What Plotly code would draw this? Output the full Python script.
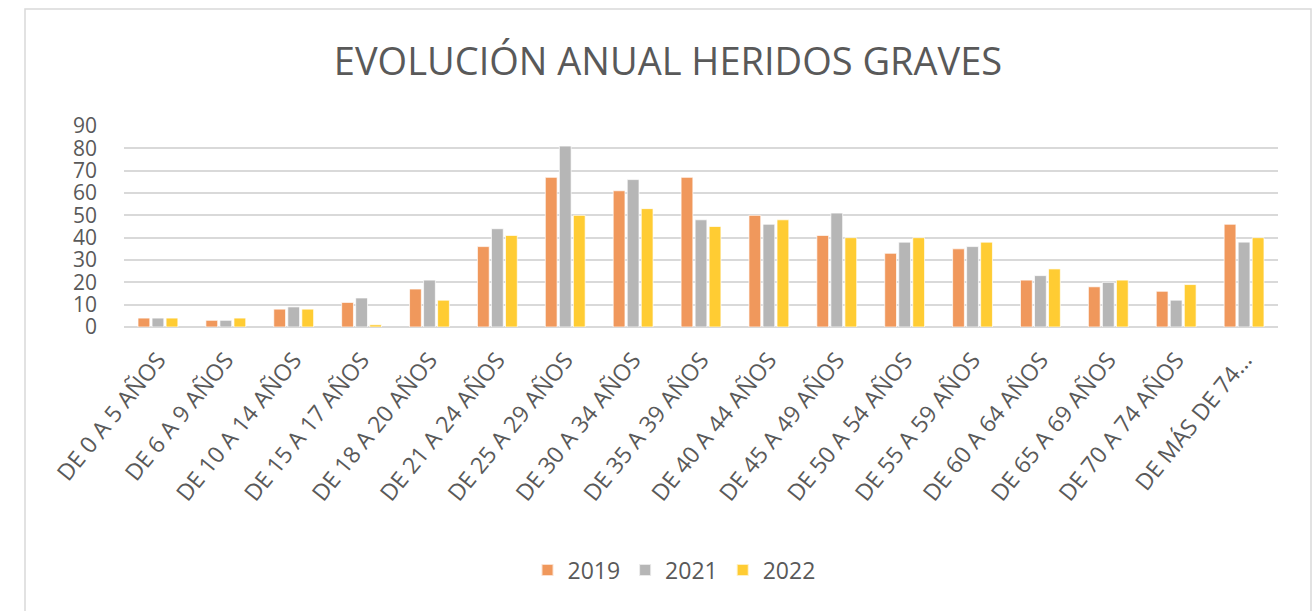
import plotly.graph_objects as go

categories = ["DE 0 A 5 AÑOS", "DE 6 A 9 AÑOS", "DE 10 A 14 AÑOS", "DE 15 A 17 AÑOS",
              "DE 18 A 20 AÑOS", "DE 21 A 24 AÑOS", "DE 25 A 29 AÑOS", "DE 30 A 34 AÑOS",
              "DE 35 A 39 AÑOS", "DE 40 A 44 AÑOS", "DE 45 A 49 AÑOS", "DE 50 A 54 AÑOS",
              "DE 55 A 59 AÑOS", "DE 60 A 64 AÑOS", "DE 65 A 69 AÑOS", "DE 70 A 74 AÑOS",
              "DE MÁS DE 74..."]
v2019 = [4, 3, 8, 11, 17, 36, 67, 61, 67, 50, 41, 33, 35, 21, 18, 16, 46]
v2021 = [4, 3, 9, 13, 21, 44, 81, 66, 48, 46, 51, 38, 36, 23, 20, 12, 38]
v2022 = [4, 4, 8, 1, 12, 41, 50, 53, 45, 48, 40, 40, 38, 26, 21, 19, 40]
series_names = ["2019", "2021", "2022"]
colors = ["#F0985C", "#B6B6B6", "#FFCC33"]
y_ticks = [0, 10, 20, 30, 40, 50, 60, 70, 80, 90]

W, H = 1316, 611
L, R, T, B = 124, 38, 126, 284
pw, ph = W - L - R, H - T - B

fig = go.Figure()
for name, vals, col in zip(series_names, [v2019, v2021, v2022], colors):
    fig.add_trace(go.Bar(x=categories, y=vals, name=name,
                         marker=dict(color=col, line=dict(color="rgba(255,255,255,0.7)", width=1))))

def px_x(p):
    return (p - L) / pw

def px_y(p):
    return (H - B - p) / ph

fig.update_layout(
    width=W, height=H,
    margin=dict(l=L, r=R, t=T, b=B),
    paper_bgcolor="white", plot_bgcolor="white",
    barmode="group", bargap=0.38, bargroupgap=0.16,
    title=dict(text="EVOLUCIÓN ANUAL HERIDOS GRAVES",
               font=dict(family="Open Sans", size=38, color="#595959"),
               x=px_x(668), xref="paper", xanchor="center",
               y=1 - 62 / H, yref="container", yanchor="middle"),
    font=dict(family="Open Sans", color="#595959"),
    showlegend=True,
    legend=dict(orientation="h", x=px_x(674), xanchor="center", y=px_y(570), yanchor="middle",
                font=dict(size=23, color="#595959"), traceorder="normal", itemsizing="constant"),
    xaxis=dict(tickangle=-51, tickfont=dict(size=23, color="#595959"), showgrid=False,
               showline=False, ticks="", ticklabelstandoff=14, automargin=False),
    yaxis=dict(range=[0, 90], tickvals=y_ticks, tickfont=dict(size=21, color="#595959"),
               gridcolor="#D9D9D9", gridwidth=1.5, zeroline=True, zerolinecolor="#D9D9D9",
               zerolinewidth=1.5, showline=False, ticks="", ticklabelstandoff=26,
               automargin=False, fixedrange=True),
    shapes=[dict(type="rect", xref="paper", yref="paper",
                 x0=px_x(25), x1=px_x(1311), y0=px_y(640), y1=px_y(9),
                 line=dict(color="#D9D9D9", width=1.5), fillcolor="rgba(0,0,0,0)", layer="below")],
)

fig.write_html("out.html", config={"displayModeBar": False},
               post_script="document.body.style.margin='0';")
